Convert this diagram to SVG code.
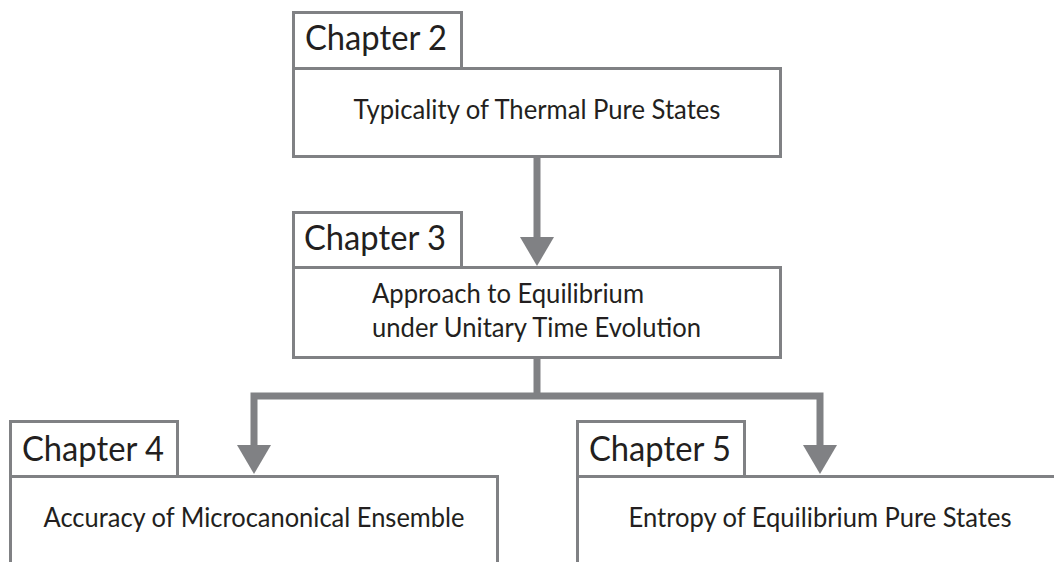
<svg xmlns="http://www.w3.org/2000/svg" width="1054" height="562" viewBox="0 0 1054 562">
<style>
.box{fill:#ffffff;stroke:#808184;stroke-width:3}
.tab{font-family:Lato,"Liberation Sans",sans-serif;font-size:34px;fill:#231f20}
.txt{font-family:Lato,"Liberation Sans",sans-serif;font-size:26px;fill:#231f20}
.conn{fill:none;stroke:#808184;stroke-width:7;stroke-linejoin:miter}
.head{fill:#808184;stroke:none}
</style>
<rect width="1054" height="562" fill="#ffffff"/>
<g id="ch2">
<rect class="box" x="293.5" y="12.5" width="168" height="56"/>
<rect class="box" x="293.5" y="68.5" width="487" height="88"/>
<text class="tab" x="305" y="50" textLength="142" lengthAdjust="spacingAndGlyphs">Chapter 2</text>
<text class="txt" x="537" y="119" text-anchor="middle" textLength="367" lengthAdjust="spacingAndGlyphs">Typicality of Thermal Pure States</text>
</g>
<g id="ch3">
<rect class="box" x="293.5" y="212.5" width="168" height="55"/>
<rect class="box" x="293.5" y="267.5" width="487" height="90"/>
<text class="tab" x="304" y="250" textLength="142" lengthAdjust="spacingAndGlyphs">Chapter 3</text>
<text class="txt" x="372" y="303" textLength="272" lengthAdjust="spacingAndGlyphs">Approach to Equilibrium</text>
<text class="txt" x="372" y="337" textLength="329" lengthAdjust="spacingAndGlyphs">under Unitary Time Evolution</text>
</g>
<g id="ch4">
<rect class="box" x="10.5" y="421.5" width="167" height="55"/>
<rect class="box" x="10.5" y="476.5" width="487" height="100"/>
<text class="tab" x="22" y="461" textLength="142" lengthAdjust="spacingAndGlyphs">Chapter 4</text>
<text class="txt" x="254" y="527" text-anchor="middle" textLength="421" lengthAdjust="spacingAndGlyphs">Accuracy of Microcanonical Ensemble</text>
</g>
<g id="ch5">
<rect class="box" x="577.5" y="421.5" width="167" height="55"/>
<rect class="box" x="577.5" y="476.5" width="500" height="100"/>
<text class="tab" x="589" y="461" textLength="142" lengthAdjust="spacingAndGlyphs">Chapter 5</text>
<text class="txt" x="820" y="527" text-anchor="middle" textLength="383" lengthAdjust="spacingAndGlyphs">Entropy of Equilibrium Pure States</text>
</g>
<g id="connectors">
<path class="conn" d="M537,157 V240"/>
<polygon class="head" points="520,237 554,237 537,266"/>
<path class="conn" d="M537,358 V396"/>
<path class="conn" d="M254,448 V396 H820 V448"/>
<polygon class="head" points="237,445 271,445 254,474"/>
<polygon class="head" points="803,445 837,445 820,474"/>
</g>
</svg>
